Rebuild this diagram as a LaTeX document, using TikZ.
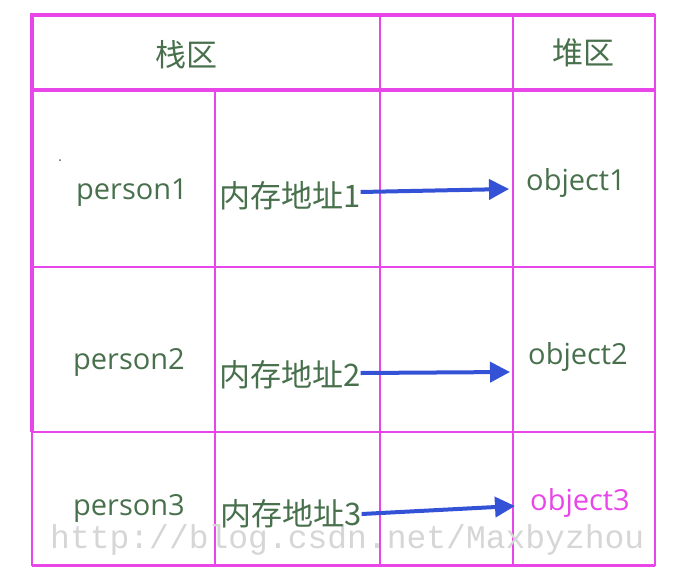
\documentclass[tikz,border=0pt]{standalone}
\usepackage{fontspec}
\setmainfont{Open Sans}
\newfontfamily\cjkfont{Noto Sans CJK SC}
\newfontfamily\markfont{Liberation Mono}
\usetikzlibrary{arrows.meta}
\definecolor{gridpink}{RGB}{232,70,232}
\definecolor{textgreen}{RGB}{72,112,76}
\definecolor{arrowblue}{RGB}{52,82,214}
\definecolor{markgray}{RGB}{214,214,214}

\begin{document}
\begin{tikzpicture}[x=1pt, y=-1pt, >={Triangle[length=20pt, width=20pt]},
    cell/.style={text=textgreen, font=\fontsize{29}{29}\selectfont, inner sep=0pt},
    zh/.style={text=textgreen, font=\cjkfont\fontsize{31}{31}\selectfont, inner sep=0pt},
    thinline/.style={draw=gridpink, line width=2pt},
    thickline/.style={draw=gridpink, line width=4pt},
    link/.style={->, draw=arrowblue, line width=4pt}]
    \useasboundingbox (0, 0) rectangle (674, 584);
    % grid
    \draw[thinline] (32, 15) rectangle (655, 565);
    \draw[thinline] (32, 267) -- (655, 267) (32, 432) -- (655, 432);
    \draw[thinline] (215, 90) -- (215, 565) (380, 15) -- (380, 565) (513, 15) -- (513, 565);
    \draw[thickline] (32, 15) -- (655, 15) (32, 90) -- (655, 90) (32, 13) -- (32, 432);
    \draw[draw=gridpink, line width=3pt] (32, 565) -- (655, 565);
    \fill[textgreen] (60, 160) circle (1pt);
    % watermark
    \node[text=markgray, font=\markfont\fontsize{33}{33}\selectfont, anchor=west, inner sep=0pt] (mark) at (50, 540) {http://blog.csdn.net/Maxbyzhou};
    % header
    \node[zh] (stack) at (186, 55) {栈区};
    \node[zh] (heap) at (583, 53) {堆区};
    % rows
    \node[cell] (p1) at (132, 193) {person1};
    \node[cell] (p2) at (129, 362) {person2};
    \node[cell] (p3) at (129, 508) {person3};
    \node[zh, anchor=west] (addr1) at (219, 196) {内存地址1};
    \node[zh, anchor=west] (addr2) at (219, 375) {内存地址2};
    \node[zh, anchor=west] (addr3) at (220, 514) {内存地址3};
    \node[cell] (obj1) at (576, 183) {object1};
    \node[cell] (obj2) at (578, 357) {object2};
    \node[cell, text=gridpink] (obj3) at (580, 503) {object3};
    \coordinate (tip1) at (509, 189);
    \coordinate (tip2) at (510, 372);
    \coordinate (tip3) at (515, 506);
    \draw[link] ([yshift=4pt]addr1.east) -- (tip1);
    \draw[link] ([yshift=2pt]addr2.east) -- (tip2);
    \draw[link] ([yshift=0pt]addr3.east) -- (tip3);
\end{tikzpicture}
\end{document}
